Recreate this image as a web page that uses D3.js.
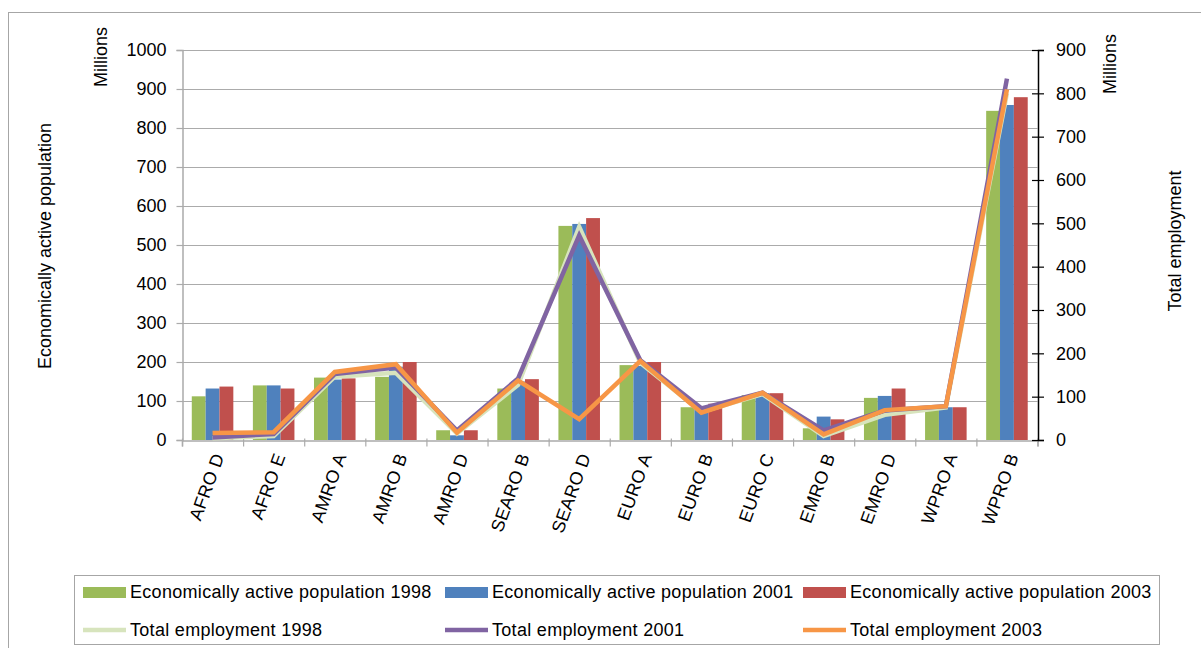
<!DOCTYPE html>
<html>
<head>
<meta charset="utf-8">
<script src="https://cdn.jsdelivr.net/npm/d3@7"></script>
<style>
  html, body { margin: 0; padding: 0; background: #fff; }
  svg { display: block; font-family: "Liberation Sans", Arial, sans-serif; }
</style>
</head>
<body>
<svg id="chart" width="1201" height="648"></svg>
<script>
// WHO subregions
const categories = ["AFRO D", "AFRO E", "AMRO A", "AMRO B", "AMRO D", "SEARO B", "SEARO D",
                    "EURO A", "EURO B", "EURO C", "EMRO B", "EMRO D", "WPRO A", "WPRO B"];

// Economically active population (millions), left axis
const active1998 = [112, 140, 160, 162, 25, 132, 549, 192, 84, 115, 30, 108, 82, 844];
const active2001 = [132, 140, 155, 188, 12, 150, 554, 190, 80, 120, 60, 113, 84, 859];
const active2003 = [137, 132, 158, 200, 25, 156, 569, 200, 93, 120, 53, 132, 84, 879];

// Total employment (millions), right axis
const employ1998 = [4, 9, 146, 155, 15, 127, 492, 178, 65, 106, 9, 58, 75, 800];
const employ2001 = [6, 14, 152, 167, 22, 142, 472, 184, 73, 109, 22, 68, 78, 834];
const employ2003 = [16, 18, 157, 175, 17, 137, 48, 182, 63, 109, 13, 69, 78, 809];

const leftTicks = [0, 100, 200, 300, 400, 500, 600, 700, 800, 900, 1000];
const rightTicks = [0, 100, 200, 300, 400, 500, 600, 700, 800, 900];

const barSeries = [
  { name: "Economically active population 1998", values: active1998, color: "#9BBB59" },
  { name: "Economically active population 2001", values: active2001, color: "#4F81BD" },
  { name: "Economically active population 2003", values: active2003, color: "#C0504D" }
];
const lineSeries = [
  { name: "Total employment 1998", values: employ1998, color: "#D7E4BD" },
  { name: "Total employment 2001", values: employ2001, color: "#8064A2" },
  { name: "Total employment 2003", values: employ2003, color: "#F79646" }
];

const svg = d3.select("#chart");
const plot = { left: 182, right: 1037.5, top: 50, bottom: 440 };
const gridColor = "#ABABAB";
const fontSize = 18;

// outer chart frame
svg.append("rect")
  .attr("x", 8.5).attr("y", 12.5).attr("width", 1210).attr("height", 660)
  .attr("fill", "none").attr("stroke", "#A6A6A6").attr("stroke-width", 1);

const x0 = d3.scaleBand().domain(categories)
  .range([plot.left, plot.right]).paddingInner(0.32).paddingOuter(0.16);
const x1 = d3.scaleBand().domain(barSeries.map(s => s.name)).range([0, x0.bandwidth()]);
const yLeft = d3.scaleLinear().domain([0, 1000]).range([plot.bottom, plot.top]);
const yRight = d3.scaleLinear().domain([0, 900]).range([plot.bottom, plot.top]);
const xEdge = d3.scaleLinear().domain([0, categories.length]).range([plot.left, plot.right]);
const cx = c => x0(c) + x0.bandwidth() / 2;

// horizontal gridlines
svg.append("g").selectAll("line").data(leftTicks.slice(1)).join("line")
  .attr("x1", plot.left).attr("x2", plot.right)
  .attr("y1", d => Math.round(yLeft(d)) + 0.5).attr("y2", d => Math.round(yLeft(d)) + 0.5)
  .attr("stroke", gridColor).attr("stroke-width", 1.2);

// bars
barSeries.forEach(s => {
  svg.append("g").selectAll("rect").data(categories).join("rect")
    .attr("x", (c) => x0(c) + x1(s.name))
    .attr("width", x1.bandwidth())
    .attr("y", (c, i) => yLeft(s.values[i]))
    .attr("height", (c, i) => plot.bottom - yLeft(s.values[i]))
    .attr("fill", s.color);
});

// left axis
const leftAxis = d3.axisLeft(yLeft).tickValues(leftTicks).tickSize(6).tickPadding(10).tickFormat(d3.format("d"));
const gl = svg.append("g").attr("transform", `translate(${plot.left + 0.5},0)`).call(leftAxis);
gl.select(".domain").attr("stroke", gridColor).attr("stroke-width", 1.5);
gl.selectAll(".tick line").attr("stroke", gridColor).attr("stroke-width", 1.2);
gl.selectAll(".tick text").attr("font-size", fontSize).attr("fill", "#000")
  .attr("font-family", "Liberation Sans, Arial, sans-serif");

// category axis
const xAxis = d3.axisBottom(xEdge).tickValues(d3.range(0, categories.length + 1)).tickSize(6).tickFormat("");
const gx = svg.append("g").attr("transform", `translate(0,${plot.bottom + 0.5})`).call(xAxis);
gx.select(".domain").attr("stroke", gridColor).attr("stroke-width", 1.5);
gx.selectAll(".tick line").attr("stroke", gridColor).attr("stroke-width", 1.2).attr("y1", -2);

svg.append("g").selectAll("text").data(categories).join("text")
  .attr("transform", c => `translate(${cx(c) + 6},${plot.bottom + 14}) rotate(-70)`)
  .attr("text-anchor", "end").attr("dy", "0.35em")
  .attr("font-size", fontSize).attr("letter-spacing", 0.3).attr("fill", "#000")
  .text(c => c);

// employment lines (right axis)
const line = d3.line().x((d, i) => cx(categories[i])).y(d => yRight(d));
lineSeries.forEach(s => {
  svg.append("path").datum(s.values)
    .attr("d", line).attr("fill", "none")
    .attr("stroke", s.color).attr("stroke-width", 4.5)
    .attr("stroke-linejoin", "miter").attr("stroke-linecap", "butt");
});

// right axis
const rightAxis = d3.axisRight(yRight).tickValues(rightTicks).tickSize(6).tickPadding(12).tickFormat(d3.format("d"));
const gr = svg.append("g").attr("transform", `translate(${plot.right + 0.5},0)`).call(rightAxis);
gr.select(".domain").attr("stroke", "#000").attr("stroke-width", 1.5);
gr.selectAll(".tick line").attr("stroke", "#000").attr("stroke-width", 1.2).attr("x1", -6);
gr.selectAll(".tick text").attr("font-size", fontSize).attr("fill", "#000")
  .attr("font-family", "Liberation Sans, Arial, sans-serif");

// axis titles and units
svg.append("text").attr("transform", "translate(107,57) rotate(-90)")
  .attr("text-anchor", "middle").attr("font-size", fontSize).text("Millions");
svg.append("text").attr("transform", "translate(1116,64) rotate(-90)")
  .attr("text-anchor", "middle").attr("font-size", fontSize).text("Millions");
svg.append("text").attr("transform", "translate(51,246) rotate(-90)")
  .attr("text-anchor", "middle").attr("font-size", fontSize).text("Economically active population");
svg.append("text").attr("transform", "translate(1181,241) rotate(-90)")
  .attr("text-anchor", "middle").attr("font-size", fontSize).text("Total employment");

// legend
svg.append("rect")
  .attr("x", 74.5).attr("y", 575.5).attr("width", 1085).attr("height", 69)
  .attr("fill", "#fff").attr("stroke", "#A6A6A6").attr("stroke-width", 1);

const legendCols = [83, 445, 803];
const legendRows = [592, 630];
const lg = svg.append("g").attr("font-size", fontSize).attr("letter-spacing", 0.3);
barSeries.forEach((s, i) => {
  lg.append("rect").attr("x", legendCols[i]).attr("y", legendRows[0] - 5)
    .attr("width", 43).attr("height", 11).attr("fill", s.color);
  lg.append("text").attr("x", legendCols[i] + 47).attr("y", legendRows[0]).attr("dy", "0.35em")
    .text(s.name);
});
lineSeries.forEach((s, i) => {
  lg.append("line").attr("x1", legendCols[i]).attr("x2", legendCols[i] + 43)
    .attr("y1", legendRows[1]).attr("y2", legendRows[1])
    .attr("stroke", s.color).attr("stroke-width", 4.5);
  lg.append("text").attr("x", legendCols[i] + 47).attr("y", legendRows[1]).attr("dy", "0.35em")
    .text(s.name);
});
</script>
</body>
</html>
